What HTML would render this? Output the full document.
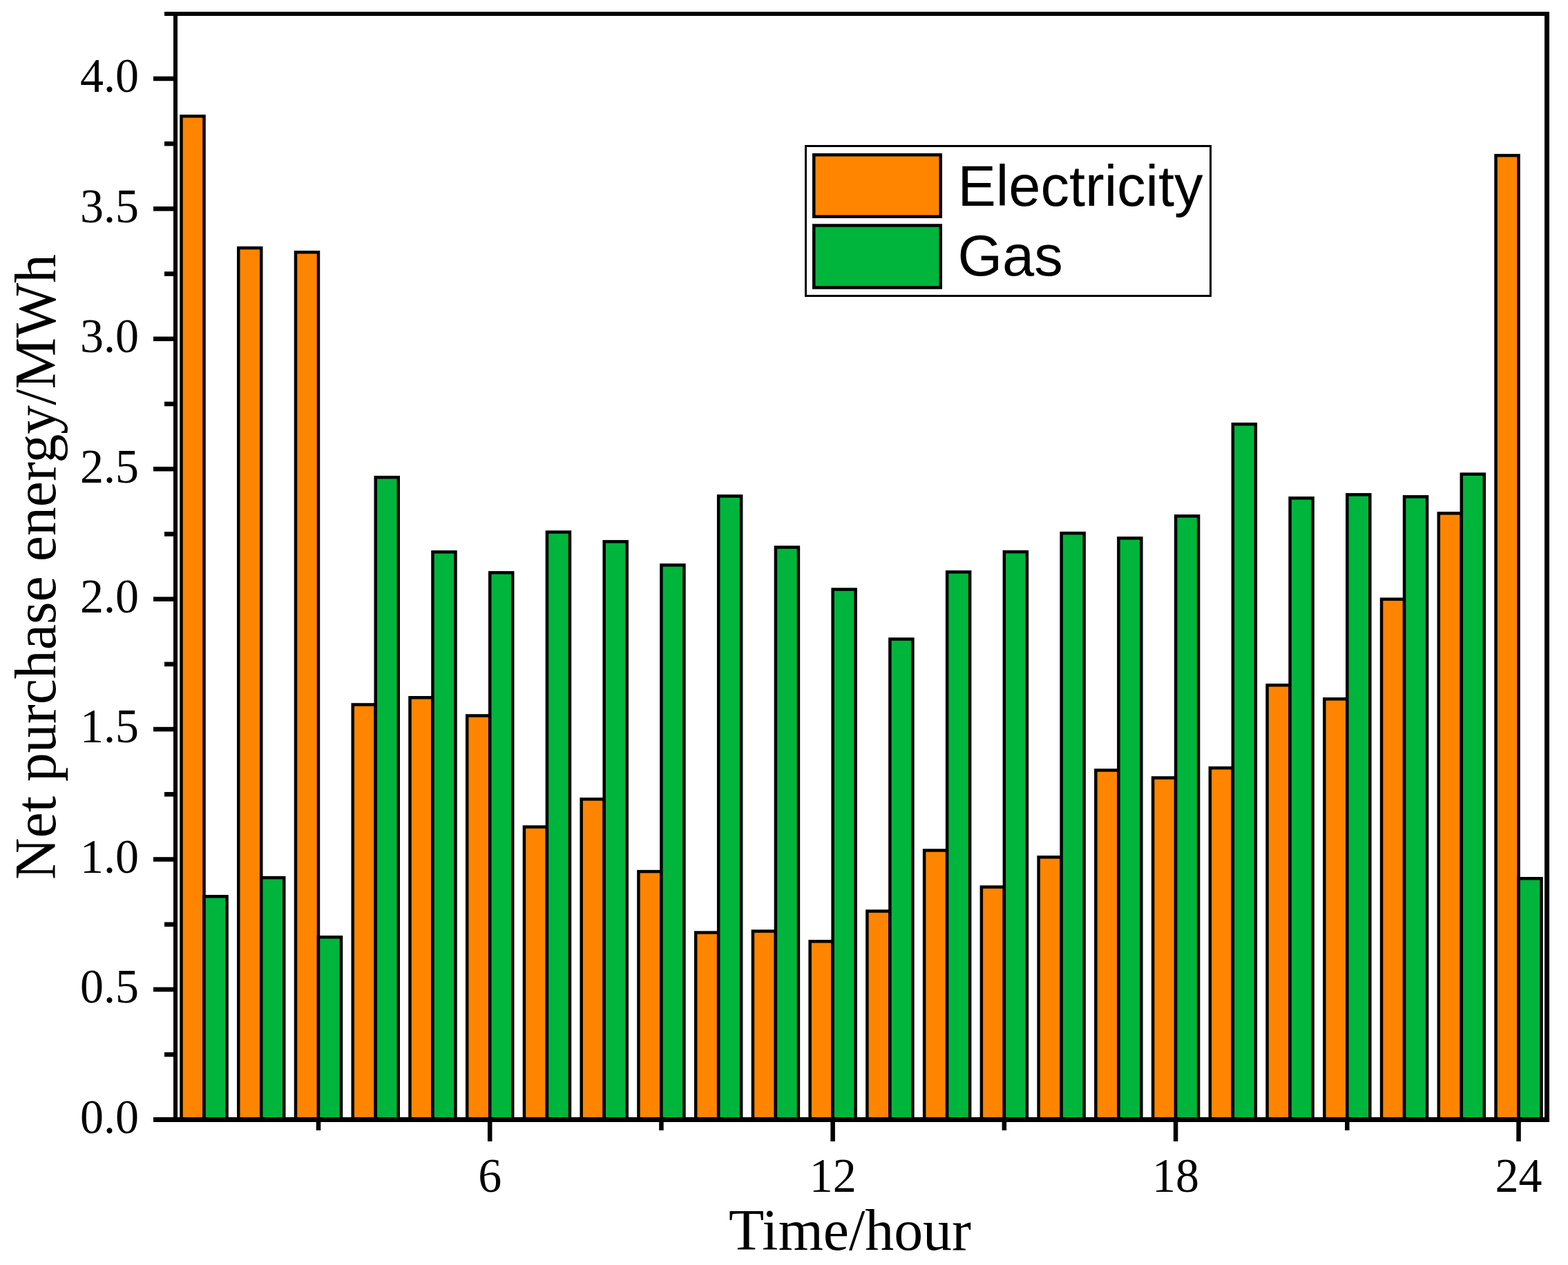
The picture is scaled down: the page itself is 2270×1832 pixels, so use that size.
<!DOCTYPE html>
<html lang="en"><head><meta charset="utf-8"><title>Net purchase energy</title>
<style>
html,body{margin:0;padding:0;background:#fff;}
body{width:2270px;height:1832px;overflow:hidden;}
svg{display:block;}
.tk{font-family:"Liberation Serif","Times New Roman",serif;font-size:68px;fill:#000;}
.ti{font-family:"Liberation Serif","Times New Roman",serif;font-size:83.8px;fill:#000;}
.lg{font-family:"Liberation Sans",Arial,sans-serif;font-size:83px;fill:#000;}
</style></head><body>
<svg width="2270" height="1832" viewBox="0 0 2270 1832">
<rect x="0" y="0" width="2270" height="1832" fill="#fff"/>
<g stroke="#000" stroke-width="4.5" stroke-linejoin="miter">
<rect x="262.50" y="168.25" width="33.00" height="1453.25" fill="#FF8500"/>
<rect x="295.50" y="1298.25" width="33.00" height="323.25" fill="#00B53B"/>
<rect x="345.24" y="359.05" width="33.00" height="1262.45" fill="#FF8500"/>
<rect x="378.24" y="1271.05" width="33.00" height="350.45" fill="#00B53B"/>
<rect x="427.98" y="365.25" width="33.00" height="1256.25" fill="#FF8500"/>
<rect x="460.98" y="1357.15" width="33.00" height="264.35" fill="#00B53B"/>
<rect x="510.72" y="1020.45" width="33.00" height="601.05" fill="#FF8500"/>
<rect x="543.72" y="691.25" width="33.00" height="930.25" fill="#00B53B"/>
<rect x="593.46" y="1010.25" width="33.00" height="611.25" fill="#FF8500"/>
<rect x="626.46" y="799.35" width="33.00" height="822.15" fill="#00B53B"/>
<rect x="676.20" y="1036.45" width="33.00" height="585.05" fill="#FF8500"/>
<rect x="709.20" y="829.35" width="33.00" height="792.15" fill="#00B53B"/>
<rect x="758.94" y="1197.55" width="33.00" height="423.95" fill="#FF8500"/>
<rect x="791.94" y="770.55" width="33.00" height="850.95" fill="#00B53B"/>
<rect x="841.68" y="1157.35" width="33.00" height="464.15" fill="#FF8500"/>
<rect x="874.68" y="784.35" width="33.00" height="837.15" fill="#00B53B"/>
<rect x="924.42" y="1262.15" width="33.00" height="359.35" fill="#FF8500"/>
<rect x="957.42" y="818.35" width="33.00" height="803.15" fill="#00B53B"/>
<rect x="1007.16" y="1350.55" width="33.00" height="270.95" fill="#FF8500"/>
<rect x="1040.16" y="718.45" width="33.00" height="903.05" fill="#00B53B"/>
<rect x="1089.90" y="1348.55" width="33.00" height="272.95" fill="#FF8500"/>
<rect x="1122.90" y="792.55" width="33.00" height="828.95" fill="#00B53B"/>
<rect x="1172.64" y="1363.35" width="33.00" height="258.15" fill="#FF8500"/>
<rect x="1205.64" y="853.55" width="33.00" height="767.95" fill="#00B53B"/>
<rect x="1255.38" y="1319.55" width="33.00" height="301.95" fill="#FF8500"/>
<rect x="1288.38" y="925.55" width="33.00" height="695.95" fill="#00B53B"/>
<rect x="1338.12" y="1231.55" width="33.00" height="389.95" fill="#FF8500"/>
<rect x="1371.12" y="828.35" width="33.00" height="793.15" fill="#00B53B"/>
<rect x="1420.86" y="1284.55" width="33.00" height="336.95" fill="#FF8500"/>
<rect x="1453.86" y="799.15" width="33.00" height="822.35" fill="#00B53B"/>
<rect x="1503.60" y="1241.35" width="33.00" height="380.15" fill="#FF8500"/>
<rect x="1536.60" y="772.15" width="33.00" height="849.35" fill="#00B53B"/>
<rect x="1586.34" y="1115.45" width="33.00" height="506.05" fill="#FF8500"/>
<rect x="1619.34" y="779.35" width="33.00" height="842.15" fill="#00B53B"/>
<rect x="1669.08" y="1126.45" width="33.00" height="495.05" fill="#FF8500"/>
<rect x="1702.08" y="747.35" width="33.00" height="874.15" fill="#00B53B"/>
<rect x="1751.82" y="1112.15" width="33.00" height="509.35" fill="#FF8500"/>
<rect x="1784.82" y="614.25" width="33.00" height="1007.25" fill="#00B53B"/>
<rect x="1834.56" y="992.25" width="33.00" height="629.25" fill="#FF8500"/>
<rect x="1867.56" y="721.35" width="33.00" height="900.15" fill="#00B53B"/>
<rect x="1917.30" y="1012.25" width="33.00" height="609.25" fill="#FF8500"/>
<rect x="1950.30" y="716.35" width="33.00" height="905.15" fill="#00B53B"/>
<rect x="2000.04" y="867.75" width="33.00" height="753.75" fill="#FF8500"/>
<rect x="2033.04" y="719.35" width="33.00" height="902.15" fill="#00B53B"/>
<rect x="2082.78" y="743.35" width="33.00" height="878.15" fill="#FF8500"/>
<rect x="2115.78" y="686.65" width="33.00" height="934.85" fill="#00B53B"/>
<rect x="2165.52" y="225.15" width="33.00" height="1396.35" fill="#FF8500"/>
<rect x="2198.52" y="1272.25" width="33.00" height="349.25" fill="#00B53B"/>
</g>
<g fill="#000">
<rect x="238" y="17" width="2005" height="6"/>
<rect x="251" y="17" width="6" height="1608"/>
<rect x="2236" y="17" width="7" height="1608"/>
<rect x="222" y="1618" width="2021" height="7"/>
<rect x="238" y="1523.88" width="14" height="6.6"/>
<rect x="222" y="1429.66" width="30" height="6.6"/>
<rect x="238" y="1335.44" width="14" height="6.6"/>
<rect x="222" y="1241.22" width="30" height="6.6"/>
<rect x="238" y="1147.01" width="14" height="6.6"/>
<rect x="222" y="1052.79" width="30" height="6.6"/>
<rect x="238" y="958.57" width="14" height="6.6"/>
<rect x="222" y="864.35" width="30" height="6.6"/>
<rect x="238" y="770.13" width="14" height="6.6"/>
<rect x="222" y="675.91" width="30" height="6.6"/>
<rect x="238" y="581.69" width="14" height="6.6"/>
<rect x="222" y="487.48" width="30" height="6.6"/>
<rect x="238" y="393.26" width="14" height="6.6"/>
<rect x="222" y="299.04" width="30" height="6.6"/>
<rect x="238" y="204.82" width="14" height="6.6"/>
<rect x="222" y="110.60" width="30" height="6.6"/>
<rect x="457.73" y="1624" width="6.5" height="13"/>
<rect x="705.95" y="1624" width="6.5" height="29"/>
<rect x="954.17" y="1624" width="6.5" height="13"/>
<rect x="1202.39" y="1624" width="6.5" height="29"/>
<rect x="1450.61" y="1624" width="6.5" height="13"/>
<rect x="1698.83" y="1624" width="6.5" height="29"/>
<rect x="1947.05" y="1624" width="6.5" height="13"/>
<rect x="2195.27" y="1624" width="6.5" height="29"/>
</g>
<text class="tk" transform="translate(201 1640.80) scale(1 1.035)" text-anchor="end">0.0</text>
<text class="tk" transform="translate(201 1452.36) scale(1 1.035)" text-anchor="end">0.5</text>
<text class="tk" transform="translate(201 1263.92) scale(1 1.035)" text-anchor="end">1.0</text>
<text class="tk" transform="translate(201 1075.49) scale(1 1.035)" text-anchor="end">1.5</text>
<text class="tk" transform="translate(201 887.05) scale(1 1.035)" text-anchor="end">2.0</text>
<text class="tk" transform="translate(201 698.61) scale(1 1.035)" text-anchor="end">2.5</text>
<text class="tk" transform="translate(201 510.18) scale(1 1.035)" text-anchor="end">3.0</text>
<text class="tk" transform="translate(201 321.74) scale(1 1.035)" text-anchor="end">3.5</text>
<text class="tk" transform="translate(201 133.30) scale(1 1.035)" text-anchor="end">4.0</text>
<text class="tk" transform="translate(709.20 1726.3) scale(1 1.035)" text-anchor="middle">6</text>
<text class="tk" transform="translate(1205.64 1726.3) scale(1 1.035)" text-anchor="middle">12</text>
<text class="tk" transform="translate(1702.08 1726.3) scale(1 1.035)" text-anchor="middle">18</text>
<text class="tk" transform="translate(2198.52 1726.3) scale(1 1.035)" text-anchor="middle">24</text>
<text class="ti" x="1230.5" y="1809.5" text-anchor="middle">Time/hour</text>
<text class="ti" transform="translate(80.3 821) rotate(-90)" text-anchor="middle">Net purchase energy/MWh</text>
<rect x="1166.5" y="211.5" width="586" height="217" fill="#fff" stroke="#000" stroke-width="3"/>
<rect x="1178.25" y="224.25" width="183.5" height="89.5" fill="#FF8500" stroke="#000" stroke-width="4.5"/>
<rect x="1178.25" y="326.5" width="183.5" height="90" fill="#00B53B" stroke="#000" stroke-width="4.5"/>
<text class="lg" x="1386.5" y="298">Electricity</text>
<text class="lg" x="1386.5" y="399">Gas</text>
</svg>
</body></html>
